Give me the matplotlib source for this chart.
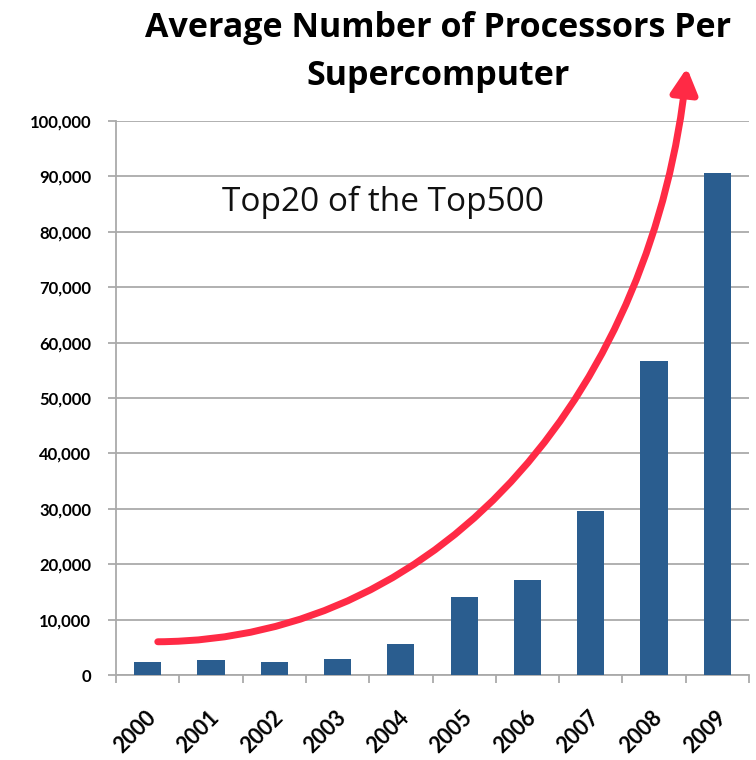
import matplotlib
matplotlib.use("Agg")
import matplotlib.pyplot as plt
import matplotlib.transforms as mtransforms
from matplotlib.patches import FancyArrowPatch
from matplotlib.path import Path
from matplotlib.ticker import FuncFormatter, MultipleLocator

years = ["2000", "2001", "2002", "2003", "2004", "2005", "2006", "2007", "2008", "2009"]
avg_processors = [2300, 2700, 2300, 2900, 5600, 14100, 17100, 29600, 56700, 90700]

title_lines = ["Average Number of Processors Per", "Supercomputer"]
note = "Top20 of the Top500"

bar_color = "#2a5d8f"
arrow_color = "#ff2a45"
grid_color = "#aaaaaa"

plt.rcParams["font.family"] = ["Lato", "DejaVu Sans"]

fig = plt.figure(figsize=(7.56, 7.60), dpi=100)
ax = fig.add_axes([116 / 756, 1 - 675 / 760, 633 / 756, 554 / 760])

x = list(range(len(years)))
ax.bar(x, avg_processors, width=0.43, color=bar_color, zorder=3)

ax.set_xlim(-0.5, len(years) - 0.5)
ax.set_ylim(0, 100000)
ax.yaxis.set_major_locator(MultipleLocator(10000))
ax.yaxis.set_major_formatter(FuncFormatter(lambda v, p: f"{int(v):,}"))
ax.grid(axis="y", color=grid_color, linewidth=1.3, zorder=0)

# category ticks sit on the boundaries, labels at the centres
ax.set_xticks([i - 0.5 for i in range(len(years) + 1)])
ax.set_xticklabels([])
ax.set_xticks(x, minor=True)
ax.set_xticklabels(years, minor=True, rotation=45, ha="right", va="center",
                   rotation_mode="anchor", fontsize=15.5, fontweight="bold")
ax.tick_params(axis="x", which="minor", length=0, pad=28)
ax.tick_params(axis="x", which="major", length=6, width=1.3, color=grid_color, direction="out")
ax.tick_params(axis="y", length=6, width=1.3, color=grid_color, pad=12, labelsize=12)
for lab in ax.get_yticklabels():
    lab.set_fontweight("bold")
shift = mtransforms.ScaledTranslation(5 / 100, 0, fig.dpi_scale_trans)
for lab in ax.get_xticklabels(minor=True):
    lab.set_transform(lab.get_transform() + shift)

for side in ["top", "right"]:
    ax.spines[side].set_visible(False)
for side in ["left", "bottom"]:
    ax.spines[side].set_color(grid_color)
    ax.spines[side].set_linewidth(1.3)

# red trend arrow (cubic curve in data coordinates)
curve = Path([(0.16, 6000), (4.78, 6300), (8.0, 53200), (8.52, 109600)],
             [Path.MOVETO, Path.CURVE4, Path.CURVE4, Path.CURVE4])
arrow = FancyArrowPatch(path=curve, arrowstyle="-|>,head_length=15,head_width=8",
                        mutation_scale=1, color=arrow_color, linewidth=5,
                        shrinkA=0, shrinkB=0, clip_on=False, zorder=5)
ax.add_patch(arrow)

ax.text(3.72, 85400, note, ha="center", va="center", fontsize=24,
        family=["Open Sans", "DejaVu Sans"], color="#111111")

for i, line in enumerate(title_lines):
    fig.text(438 / 756, 1 - (28 + 48 * i) / 760, line, ha="center", va="center",
             fontsize=24.5, fontweight="bold", family=["Open Sans", "DejaVu Sans"])

fig.savefig("out.png", dpi=100)
